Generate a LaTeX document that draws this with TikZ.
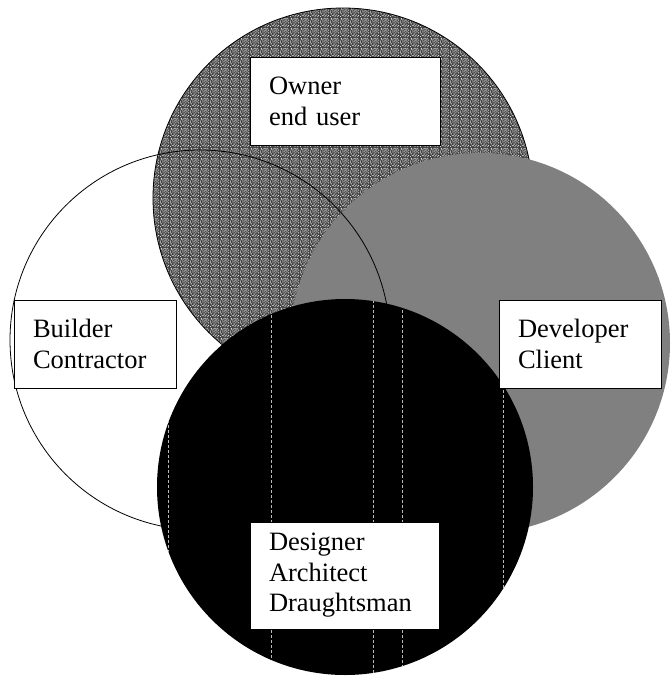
\documentclass[tikz,border=0pt]{standalone}
\usepackage{fontspec}
\setmainfont{Liberation Serif}
\usetikzlibrary{patterns}
\pgfdeclarepatternformonly{noisy}{\pgfpointorigin}{\pgfqpoint{10pt}{10pt}}{\pgfqpoint{10pt}{10pt}}{%
  \foreach \a/\b in {0/0,2/1,5/0,7/2,9/1,1/3,4/3,6/4,8/5,3/5,0/6,2/7,5/7,7/8,9/7,1/9,4/9,6/9,8/0,3/1,6/1,0/4,9/4,2/5,5/5,4/6,7/6,1/8,3/8,8/9,4/2,6/7}{%
    \pgfpathrectangle{\pgfqpoint{\a pt}{\b pt}}{\pgfqpoint{1pt}{1pt}}\pgfusepath{fill}}%
}
\tikzset{
  lbl/.style={draw=black, line width=1pt, fill=white, align=left, inner xsep=19pt,
    font=\fontsize{26.5}{30.5}\selectfont},
  gridline/.style={draw=gray!55, line width=0.3pt, dash pattern=on 3pt off 2pt}
}
\begin{document}
\begin{tikzpicture}[x=1pt,y=-1pt]
\useasboundingbox (0,0) rectangle (670,677);
% Owner circle (top, textured)
\coordinate (cO) at (343,198);
\fill[black!75] (cO) circle[radius=190];
\fill[pattern=noisy, pattern color=white!85!black] (cO) circle[radius=190];
\draw[line width=0.8pt] (cO) circle[radius=190];
% Developer circle (right, gray)
\coordinate (cD) at (480,343);
\fill[gray] (cD) circle[radius=190];
% Builder circle (left, outline only)
\coordinate (cB) at (200,340);
\draw[line width=0.8pt] (cB) circle[radius=190];
% Designer circle (bottom, black)
\coordinate (cA) at (345,487);
\fill[black] (cA) circle[radius=188];
\begin{scope}
  \clip (cA) circle[radius=188];
  \foreach \xx in {168,271,373,402,503}{
    \draw[gridline] (\xx,290) -- (\xx,680);
  }
\end{scope}
% Labels
\node[lbl, minimum width=190pt, minimum height=87pt, text width=152pt] (owner) at (345,101.5) {Owner\\end user};
\node[lbl, minimum width=162pt, minimum height=88pt, text width=124pt] (builder) at (95,344) {Builder\\Contractor};
\node[lbl, minimum width=162pt, minimum height=88pt, text width=124pt] (developer) at (580,344) {Developer\\Client};
\node[lbl, minimum width=189pt, minimum height=107pt, text width=151pt] (designer) at (344.5,575.5) {Designer\\Architect\\Draughtsman};
\end{tikzpicture}
\end{document}
